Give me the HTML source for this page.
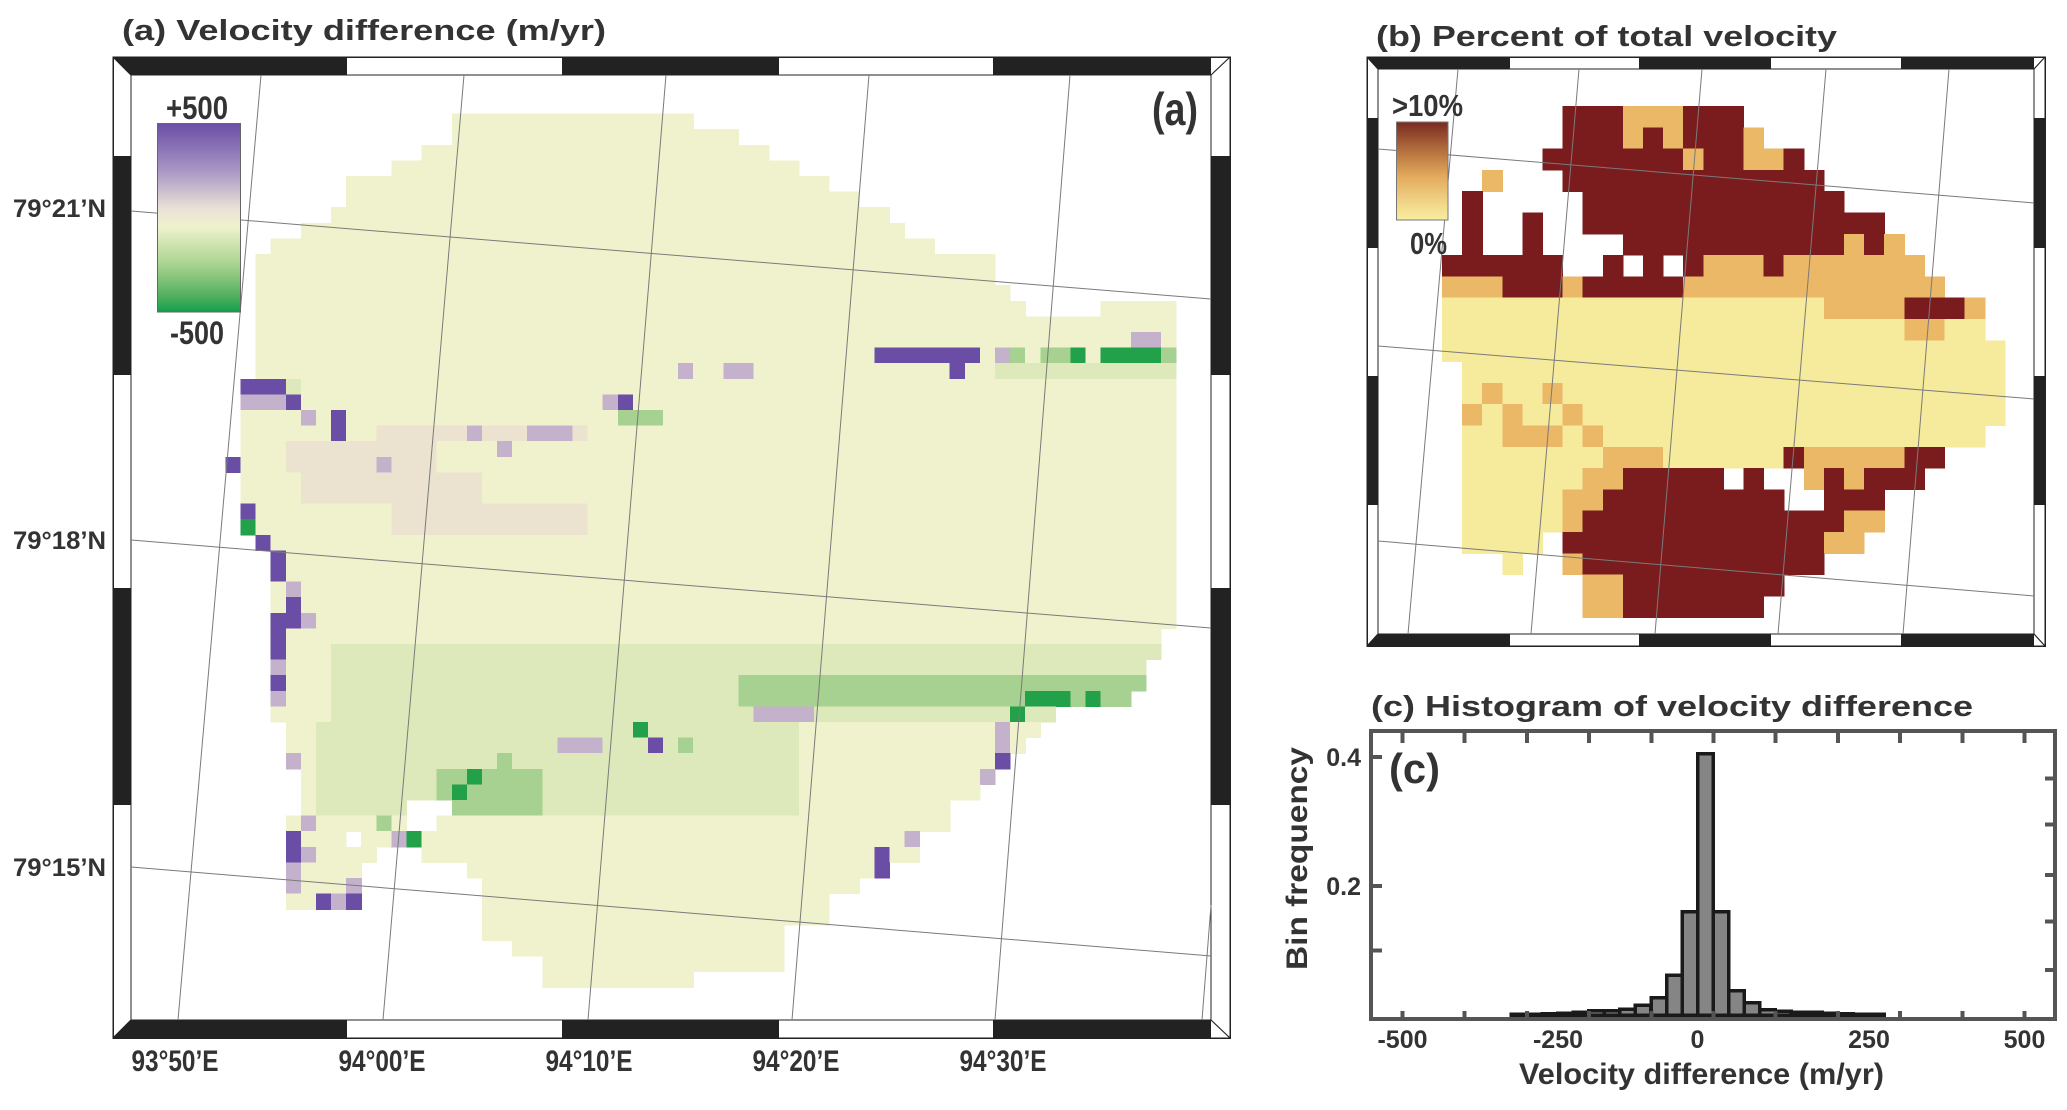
<!DOCTYPE html>
<html><head><meta charset="utf-8"><style>
html,body{margin:0;padding:0;background:#fff;}
svg{display:block;}
text{font-family:"Liberation Sans",Arial,sans-serif;font-weight:bold;fill:#333;}
</style></head><body>
<svg id="fig" width="2067" height="1110" viewBox="0 0 2067 1110" xmlns="http://www.w3.org/2000/svg" shape-rendering="crispEdges">
<defs>
<linearGradient id="gradA" x1="0" y1="0" x2="0" y2="1">
<stop offset="0" stop-color="#6a4ea6"/><stop offset="0.25" stop-color="#a996c4"/><stop offset="0.45" stop-color="#e9e1d6"/><stop offset="0.55" stop-color="#eef2cc"/><stop offset="0.75" stop-color="#a8d38e"/><stop offset="0.92" stop-color="#4fae5e"/><stop offset="1" stop-color="#12a04a"/>
</linearGradient>
<linearGradient id="gradB" x1="0" y1="0" x2="0" y2="1">
<stop offset="0" stop-color="#7a2a22"/><stop offset="0.3" stop-color="#b5723e"/><stop offset="0.55" stop-color="#e2a95c"/><stop offset="0.85" stop-color="#f3d98c"/><stop offset="1" stop-color="#f7eda0"/>
</linearGradient>
</defs>
<g id="panelA"></g>
<g id="panelB"></g>
<g id="panelC"></g>
</svg>
<script>
// ---------- Panel (a) data: row segments [startCol, endColExclusive] ----------
const aSegs = [
 [[14,30]],[[14,33]],[[12,35]],[[10,37]],[[7,39]],[[7,41]],[[6,43]],[[4,44]],[[2,46]],[[1,50]],
 [[1,50]],[[1,51]],[[1,52],[57,62]],[[1,62]],[[1,62]],[[1,62]],[[1,62]],[[0,62]],[[0,62]],[[0,62]],
 [[0,62]],[[0,62]],[[-1,62]],[[0,62]],[[0,62]],[[0,62]],[[0,62]],[[1,62]],[[2,62]],[[2,62]],
 [[2,62]],[[2,62]],[[2,62]],[[2,61]],[[2,61]],[[2,60]],[[2,60]],[[2,59]],[[2,54]],[[3,53]],
 [[3,52]],[[3,51]],[[4,50]],[[4,49]],[[4,11],[14,47]],[[3,11],[13,47]],[[3,7],[8,45]],[[3,9],[12,45]],[[3,8],[15,43]],[[3,8],[16,41]],
 [[3,8],[16,39]],[[16,39]],[[16,36]],[[18,36]],[[20,36]],[[20,30]]
];
// patches: [rowStart,rowEnd,colStart,colEnd(inclusive),class]
const aPatches = [
 [34,38,6,60,'l'],[39,44,5,36,'l'],[16,16,50,61,'l'],[20,20,9,22,'t'],[23,24,4,15,'t'],[25,26,10,22,'t'],
 [36,37,33,59,'g'],[42,44,13,19,'g'],[21,22,3,12,'t']
];
// individual cells: [row,col,class]
const aCells = [
 [15,42,'P'],[15,43,'P'],[15,44,'P'],[15,45,'P'],[15,46,'P'],[15,47,'P'],[15,48,'P'],[15,50,'p'],[15,51,'g'],[15,53,'g'],[15,54,'g'],[15,55,'G'],[15,57,'G'],[15,58,'G'],[15,59,'G'],[15,60,'G'],[15,61,'g'],
 [14,59,'p'],[14,60,'p'],[16,47,'P'],[16,29,'p'],[16,32,'p'],[16,33,'p'],
 [17,0,'P'],[17,1,'P'],[17,2,'P'],[17,3,'l'],[18,0,'p'],[18,1,'p'],[18,2,'p'],[18,3,'P'],[18,24,'p'],[18,25,'P'],
 [19,4,'p'],[19,6,'P'],[19,25,'g'],[19,26,'g'],[19,27,'g'],[20,6,'P'],[20,15,'p'],[20,19,'p'],[20,20,'p'],[20,21,'p'],
 [21,17,'p'],[22,-1,'P'],[22,9,'p'],[25,0,'P'],[26,0,'G'],[27,1,'P'],[28,2,'P'],[29,2,'P'],[30,3,'p'],[31,3,'P'],
 [32,2,'P'],[32,3,'P'],[32,4,'p'],[33,2,'P'],[34,2,'P'],[35,2,'p'],[36,2,'P'],[37,2,'p'],
 [37,52,'G'],[37,53,'G'],[37,54,'G'],[37,56,'G'],[38,34,'p'],[38,35,'p'],[38,36,'p'],[38,37,'p'],[38,51,'G'],
 [39,26,'G'],[39,50,'p'],[40,21,'p'],[40,22,'p'],[40,23,'p'],[40,27,'P'],[40,29,'g'],[40,50,'p'],
 [41,3,'p'],[41,17,'g'],[41,50,'P'],[42,15,'G'],[42,49,'p'],[43,14,'G'],
 [45,4,'p'],[45,9,'g'],[46,3,'P'],[46,11,'G'],[46,10,'p'],[46,44,'p'],[47,3,'P'],[47,4,'p'],[47,42,'P'],[48,3,'p'],[48,42,'P'],[49,3,'p'],[49,7,'p'],
 [50,5,'P'],[50,6,'p'],[50,7,'P']
];
const aColors = {y:'#f0f2cd',l:'#dde9bb',g:'#a6d190',G:'#22a04a',p:'#c4b2cc',t:'#ebe2cf',P:'#6a4ea6'};

// ---------- Panel (b) data: row strings ----------
const bRows = [
 "......DDDoooDDD.............",
 "......DDDoDoDDDo............",
 ".....DDDDDDDoDDooD..........",
 "..o...DDDDDDDDDDDDD.........",
 ".D.....DDDDDDDDDDDDD........",
 ".D..D..DDDDDDDDDDDDDDD......",
 ".D..D....DDDDDDDDDDDoDo.....",
 "DDDDDD..D.D.DoooDooooooo....",
 "oooDDDoDDDDDooooooooooooo...",
 "yyyyyyyyyyyyyyyyyyyooooDDDo.",
 "yyyyyyyyyyyyyyyyyyyyyyyooyy.",
 "yyyyyyyyyyyyyyyyyyyyyyyyyyyy",
 ".yyyyyyyyyyyyyyyyyyyyyyyyyyy",
 ".yoyyoyyyyyyyyyyyyyyyyyyyyyy",
 ".oyoyyoyyyyyyyyyyyyyyyyyyyyy",
 ".yyoooyoyyyyyyyyyyyyyyyyyyy.",
 ".yyyyyyyoooyyyyyyDoooooDD...",
 ".yyyyyyooDDDDD.D..oDoDDD....",
 ".yyyyyooDDDDDDDDD..DDD......",
 ".yyyyyoDDDDDDDDDDDDDoo......",
 ".yyyy.DDDDDDDDDDDDDoo.......",
 "...y..oDDDDDDDDDDDD.........",
 ".......ooDDDDDDDD...........",
 ".......ooDDDDDDD............"
];
const bColors = {y:'#f6ea9c',o:'#eab866',D:'#7a1c1e'};

// ---------- Panel (c) data ----------
const histCenters = [-313,-288,-263,-238,-213,-188,-163,-138,-113,-88,-63,-38,-13,12,37,62,87,112,137,162,187,212,237,262];
const histFreq = [0.001,0.001,0.002,0.003,0.004,0.007,0.007,0.009,0.015,0.027,0.062,0.16,0.405,0.16,0.038,0.019,0.008,0.006,0.004,0.004,0.003,0.002,0.001,0.001];
const xTickVals = [-500,-400,-300,-200,-100,0,100,200,300,400,500];
const xLabelVals = [-500,-250,0,250,500];
const xLabels = ["-500","-250","0","250","500"];
const yLeftTicks = [0.1,0.2,0.4];
const yLabelVals = [0.2,0.4];
const yLabels = ["0.2","0.4"];
const yRightTicks = [0.07,0.145,0.217,0.295,0.367];

const NS='http://www.w3.org/2000/svg';
function mk(parent,tag,attrs){const e=document.createElementNS(NS,tag);for(const k in attrs)e.setAttribute(k,attrs[k]);parent.appendChild(e);return e;}
function txt(parent,s,attrs){const e=mk(parent,'text',attrs);e.textContent=s;return e;}

function frame(g,o,inn,xs,ys,name){
  const fg=mk(g,'g',{});
  
  
  mk(fg,'rect',{x:o[0],y:o[1],width:o[2]-o[0],height:o[3]-o[1],fill:'#fff',stroke:'none'});
  for(let i=0;i<xs.length-1;i++){
    if(i%2===0){
      mk(fg,'rect',{x:xs[i],y:o[1],width:xs[i+1]-xs[i],height:inn[1]-o[1],fill:'#222'});
      mk(fg,'rect',{x:xs[i],y:inn[3],width:xs[i+1]-xs[i],height:o[3]-inn[3],fill:'#222'});
    }
  }
  for(let i=0;i<ys.length-1;i++){
    if(i%2===1){
      mk(fg,'rect',{x:o[0],y:ys[i],width:inn[0]-o[0],height:ys[i+1]-ys[i],fill:'#222'});
      mk(fg,'rect',{x:inn[2],y:ys[i],width:o[2]-inn[2],height:ys[i+1]-ys[i],fill:'#222'});
    }
  }
  mk(fg,'polygon',{points:`${o[0]},${o[1]} ${inn[0]},${o[1]} ${inn[0]},${inn[1]}`,fill:'#222'});
  mk(fg,'polygon',{points:`${o[0]},${o[3]} ${inn[0]},${inn[3]} ${inn[0]},${o[3]}`,fill:'#222'});
  const lines=[[o[0],o[1],inn[0],inn[1]],[o[2],o[1],inn[2],inn[1]],[o[0],o[3],inn[0],inn[3]],[o[2],o[3],inn[2],inn[3]]];
  lines.forEach(l=>mk(fg,'line',{x1:l[0],y1:l[1],x2:l[2],y2:l[3],stroke:'#222','stroke-width':1.2,'shape-rendering':'auto'}));
  mk(fg,'rect',{x:o[0],y:o[1],width:o[2]-o[0],height:o[3]-o[1],fill:'none',stroke:'#222','stroke-width':1.5});
  mk(fg,'rect',{x:inn[0],y:inn[1],width:inn[2]-inn[0],height:inn[3]-inn[1],fill:'none',stroke:'#222','stroke-width':1.2});
}

// ================= Panel A =================
(function(){
  const g=document.getElementById('panelA');
  const t=txt(g,'(a) Velocity difference (m/yr)',{x:122,y:40,'font-size':29,textLength:484,lengthAdjust:'spacingAndGlyphs'});
  
  
  frame(g,[113,57,1230,1038],[131,75,1211,1020],[131,347,562,779,993,1211],[75,156,375,588,805,1020],'panel-a-frame');
  const x0=240.5,y0=113.6,cw=15.09,ch=15.6;
  const cellX=c=>x0+c*cw, cellY=r=>y0+r*ch;
  const cls={};
  aPatches.forEach(p=>{for(let r=p[0];r<=p[1];r++)for(let c=p[2];c<=p[3];c++)cls[r+','+c]=p[4];});
  aCells.forEach(p=>{cls[p[0]+','+p[1]]=p[2];});
  const hm=mk(g,'g',{});
  
  
  aSegs.forEach((segs,r)=>{segs.forEach(s=>{for(let c=s[0];c<s[1];c++){
    const k=cls[r+','+c]||'y';
    const e=mk(hm,'rect',{x:cellX(c).toFixed(2),y:cellY(r).toFixed(2),width:(cw+0.6).toFixed(2),height:(ch+0.6).toFixed(2),fill:aColors[k]});
    
    
  }});});
  const grat=mk(g,'g',{stroke:'#7a7a7a','stroke-width':1,'shape-rendering':'auto'});
  
  
  [[131,211,1211,299],[131,540,1211,628],[131,867,1211,956],[261,75,178,1020],[464,75,383,1020],[666,75,588,1020],[869,75,792,1020],[1070,75,995,1020],[1211,905,1202,1020]]
   .forEach(l=>mk(grat,'line',{x1:l[0],y1:l[1],x2:l[2],y2:l[3]}));
  const cb=mk(g,'rect',{x:157.5,y:123.5,width:83,height:188.5,fill:'url(#gradA)',stroke:'#666','stroke-width':1});
  
  
  let e=txt(g,'+500',{x:166,y:119,'font-size':32,textLength:62,lengthAdjust:'spacingAndGlyphs'});
  
  e=txt(g,'-500',{x:170,y:344,'font-size':32,textLength:54,lengthAdjust:'spacingAndGlyphs'});
  
  e=txt(g,'(a)',{x:1152,y:125,'font-size':46,textLength:46,lengthAdjust:'spacingAndGlyphs',fill:'#222'});
  
  const lats=[['79°21\u2019N',217],['79°18\u2019N',549],['79°15\u2019N',876]];
  lats.forEach(l=>{const q=txt(g,l[0],{x:13,y:l[1],'font-size':25,textLength:93,lengthAdjust:'spacingAndGlyphs'});
    });
  const lons=['93°50\u2019E','94°00\u2019E','94°10\u2019E','94°20\u2019E','94°30\u2019E'];
  lons.forEach((l,i)=>{const q=txt(g,l,{x:175+i*207-43.5,y:1071,'font-size':30,textLength:87,lengthAdjust:'spacingAndGlyphs'});
    });
})();

// ================= Panel B =================
(function(){
  const g=document.getElementById('panelB');
  let e=txt(g,'(b) Percent of total velocity',{x:1376,y:46,'font-size':29,textLength:461,lengthAdjust:'spacingAndGlyphs'});
  
  frame(g,[1367,57,2045,646],[1378,69,2034,634],[1378,1510,1639,1771,1901,2034],[69,118,248,376,505,634],'panel-b-frame');
  const x0=1442,y0=106,cw=20.1,ch=21.3;
  const hm=mk(g,'g',{});
  
  
  bRows.forEach((row,r)=>{for(let c=0;c<row.length;c++){const k=row[c];if(k==='.')continue;
    const q=mk(hm,'rect',{x:(x0+c*cw).toFixed(2),y:(y0+r*ch).toFixed(2),width:(cw+0.6).toFixed(2),height:(ch+0.6).toFixed(2),fill:bColors[k]});
    
    
  }});
  const grat=mk(g,'g',{stroke:'#7a7a7a','stroke-width':1,'shape-rendering':'auto'});
  
  
  [[1378,149,2034,203],[1378,346,2034,399],[1378,541,2034,596],[1458,69,1408,634],[1579,69,1531,634],[1702,69,1655,634],[1826,69,1778,634],[1949,69,1903,634]]
   .forEach(l=>mk(grat,'line',{x1:l[0],y1:l[1],x2:l[2],y2:l[3]}));
  e=mk(g,'rect',{x:1396.5,y:122,width:51.5,height:98,fill:'url(#gradB)',stroke:'#777','stroke-width':1});
  
  e=txt(g,'>10%',{x:1392,y:116,'font-size':31,textLength:71,lengthAdjust:'spacingAndGlyphs'});
  
  e=txt(g,'0%',{x:1410,y:254,'font-size':31,textLength:37,lengthAdjust:'spacingAndGlyphs'});
  
})();

// ================= Panel C =================
(function(){
  const g=document.getElementById('panelC');
  const L=1371,R=2055,T=731,B=1019;
  const xS=v=>1713.5+v*0.622;
  const yS=v=>1015-v*645;
  let e=txt(g,'(c) Histogram of velocity difference',{x:1371,y:716,'font-size':29,textLength:602,lengthAdjust:'spacingAndGlyphs'});
  
  const bars=mk(g,'g',{});
  
  
  histCenters.forEach((c,i)=>{
    const x1=xS(c-12.5),x2=xS(c+12.5),y=yS(histFreq[i]);
    const b=mk(bars,'rect',{x:x1.toFixed(1),y:y.toFixed(1),width:(x2-x1).toFixed(1),height:(yS(0)-y).toFixed(1),fill:'#858585',stroke:'#1a1a1a','stroke-width':3.5});
    
    
  });
  const ax=mk(g,'g',{stroke:'#555','stroke-width':4});
  
  
  mk(ax,'rect',{x:L,y:T,width:R-L,height:B-T,fill:'none'});
  xTickVals.forEach(v=>{mk(ax,'line',{x1:xS(v),y1:B,x2:xS(v),y2:B-8});mk(ax,'line',{x1:xS(v),y1:T,x2:xS(v),y2:T+12});});
  yLeftTicks.forEach(v=>mk(ax,'line',{x1:L,y1:yS(v),x2:L+11,y2:yS(v)}));
  yRightTicks.forEach(v=>mk(ax,'line',{x1:R,y1:yS(v),x2:R-10,y2:yS(v)}));
  xLabelVals.forEach((v,i)=>{const q=txt(g,xLabels[i],{x:xS(v)-(v===0?16:0),y:1048,'font-size':25,'text-anchor':'middle'});
    });
  yLabelVals.forEach((v,i)=>{const q=txt(g,yLabels[i],{x:1361,y:yS(v)+9,'font-size':25,'text-anchor':'end'});
    });
  e=txt(g,'(c)',{x:1389,y:783,'font-size':42,textLength:51,lengthAdjust:'spacingAndGlyphs',fill:'#222'});
  
  e=txt(g,'Velocity difference (m/yr)',{x:1519,y:1084,'font-size':30,textLength:365,lengthAdjust:'spacingAndGlyphs'});
  
  e=txt(g,'Bin frequency',{x:0,y:0,'font-size':30,textLength:223,lengthAdjust:'spacingAndGlyphs',transform:'translate(1307,970) rotate(-90)'});
  
})();
</script>
</body></html>
